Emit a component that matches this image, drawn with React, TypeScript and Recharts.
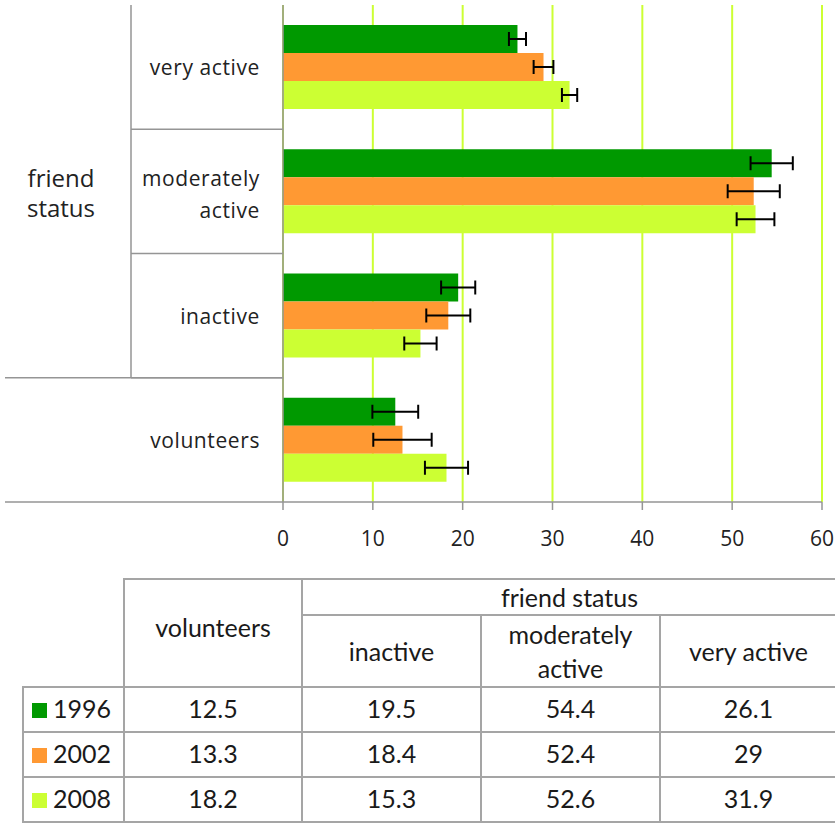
import React from 'react';
import { BarChart, Bar, XAxis, YAxis, CartesianGrid, ErrorBar } from 'recharts';

// categories in table order (bottom to top in the chart)
const categories = ['volunteers', 'inactive', 'moderately active', 'very active'];
const categoryLines = [['volunteers'], ['inactive'], ['moderately', 'active'], ['very active']];
const categoryGroups = ['', 'friend status', 'friend status', 'friend status'];
const groupLines = ['friend', 'status'];

const years = ['1996', '2002', '2008'];
const values1996 = [12.5, 19.5, 54.4, 26.1];
const values2002 = [13.3, 18.4, 52.4, 29];
const values2008 = [18.2, 15.3, 52.6, 31.9];
const errors1996 = [2.55, 1.9, 2.35, 0.95];
const errors2002 = [3.25, 2.45, 2.9, 1.1];
const errors2008 = [2.4, 1.8, 2.1, 0.85];
const xTicks = [0, 10, 20, 30, 40, 50, 60];

const colors = ['#009900', '#FF9933', '#CCFF33'];
const seriesValues = [values1996, values2002, values2008];

const data = categories.map((name, i) => ({
  name,
  y1996: values1996[i],
  y2002: values2002[i],
  y2008: values2008[i],
  e1996: errors1996[i],
  e2002: errors2002[i],
  e2008: errors2008[i],
}));

const CHART_W = 835;
const CHART_H = 560;
const MARGIN = { top: 5, right: 13, bottom: 2, left: 0 };
const Y_AXIS_W = 283;
const X_AXIS_H = 56;
const PLOT_H = CHART_H - MARGIN.top - MARGIN.bottom - X_AXIS_H;
const BAND = PLOT_H / categories.length;
const TICK_GAP = 23;
const GROUP_COL = 152; // width of the inner label column
const LINE = '#959595';
const CHART_FONT = '"Open Sans", sans-serif';

const CategoryTick = (props: any) => {
  const { x, y, payload } = props;
  const i = categories.indexOf(payload.value);
  const axisX = x + TICK_GAP;
  const innerX = axisX - GROUP_COL;
  const lines = categoryLines[i];
  const group = categoryGroups[i];
  const isFirstInGroup = group && (i === 0 || categoryGroups[i - 1] !== group);
  const lineH = 32;
  const out: React.ReactNode[] = [];

  lines.forEach((t, k) => {
    const dy = lines.length > 1 ? 3 : 0;
    out.push(
      <text key={'t' + k} x={x} y={y + (k - (lines.length - 1) / 2) * lineH + dy} textAnchor="end"
        dominantBaseline="central" fontSize={21} letterSpacing={0.6} fill="#222" fontFamily={CHART_FONT}>
        {t}
      </text>
    );
  });

  // bottom boundary of this category cell
  out.push(
    <line key="b" x1={group ? innerX : MARGIN.left + 5} x2={axisX} y1={y + BAND / 2} y2={y + BAND / 2}
      stroke={LINE} strokeWidth={1.5} />
  );

  if (isFirstInGroup) {
    const count = categoryGroups.filter((g) => g === group).length;
    const center = y - ((count - 1) / 2) * BAND;
    const top = center - (count * BAND) / 2;
    const bottom = center + (count * BAND) / 2;
    out.push(<line key="gv" x1={innerX} x2={innerX} y1={top} y2={bottom} stroke={LINE} strokeWidth={1.5} />);
    out.push(<line key="gb" x1={5} x2={axisX} y1={bottom} y2={bottom} stroke={LINE} strokeWidth={1.5} />);
    groupLines.forEach((t, k) => {
      out.push(
        <text key={'g' + k} x={61} y={center + (k - (groupLines.length - 1) / 2) * 30 + 1} textAnchor="middle"
          dominantBaseline="central" fontSize={24} fill="#222" fontFamily={CHART_FONT}>
          {t}
        </text>
      );
    });
  }
  return <g>{out}</g>;
};

const cell: React.CSSProperties = {
  border: '2px solid #A5A5A5',
  padding: 0,
  textAlign: 'center',
  verticalAlign: 'middle',
};

const DataTable = () => (
  <table
    style={{
      position: 'absolute',
      left: 22,
      top: 578,
      width: 813,
      borderCollapse: 'collapse',
      tableLayout: 'fixed',
      fontFamily: 'Lato, sans-serif',
      fontSize: 25,
      color: '#1a1a1a',
      lineHeight: '34px',
    }}
  >
    <colgroup>
      <col style={{ width: 101 }} />
      <col style={{ width: 178 }} />
      <col style={{ width: 179 }} />
      <col style={{ width: 179 }} />
      <col style={{ width: 176 }} />
    </colgroup>
    <tbody>
      <tr style={{ height: 35 }}>
        <td rowSpan={2} style={{ border: 'none' }} />
        <td rowSpan={2} style={{ ...cell, verticalAlign: 'top', paddingTop: 30 }}>{categories[0]}</td>
        <td colSpan={3} style={{ ...cell, borderRight: 'none' }}>{categoryGroups[1]}</td>
      </tr>
      <tr style={{ height: 72 }}>
        {categories.slice(1).map((c, k) => (
          <td key={c} style={{ ...cell, borderRight: k === categories.length - 2 ? 'none' : cell.border }}>
            {categoryLines[k + 1].map((t, j) => (
              <React.Fragment key={j}>
                {j > 0 && <br />}
                {t}
              </React.Fragment>
            ))}
          </td>
        ))}
      </tr>
      {years.map((yr, s) => (
        <tr key={yr} style={{ height: 45 }}>
          <td style={{ ...cell, textAlign: 'left', paddingLeft: 8, paddingBottom: 4 }}>
            <span style={{ display: 'inline-block', width: 15, height: 15, background: colors[s], marginRight: 6 }} />
            {yr}
          </td>
          {seriesValues[s].map((v, i) => (
            <td key={i} style={{ ...cell, paddingBottom: 4, borderRight: i === categories.length - 1 ? 'none' : cell.border }}>
              {String(v)}
            </td>
          ))}
        </tr>
      ))}
    </tbody>
  </table>
);

export default function App() {
  return (
    <div style={{ position: 'absolute', left: 0, top: 0, width: 835, height: 823, overflow: 'hidden', background: '#fff' }}>
      <div style={{ position: 'absolute', left: 0, top: 0 }}>
        <BarChart width={CHART_W} height={CHART_H} data={data} layout="vertical" margin={MARGIN}
          barCategoryGap={20} barGap={0}>
          <CartesianGrid horizontal={false} stroke="#CCFF33" strokeWidth={2} />
          <XAxis type="number" domain={[0, 60]} ticks={xTicks} interval={0} height={X_AXIS_H}
            tickSize={8} tickMargin={21} stroke={LINE} strokeWidth={1.5}
            tick={{ fontSize: 21, fill: '#222', fontFamily: CHART_FONT }} />
          <YAxis type="category" dataKey="name" reversed width={Y_AXIS_W} interval={0}
            tickSize={0} tickMargin={TICK_GAP} stroke={LINE} strokeWidth={1.5} tick={<CategoryTick />} />
          {years.map((yr, s) => (
            <Bar key={yr} dataKey={'y' + yr} fill={colors[s]} isAnimationActive={false}>
              <ErrorBar dataKey={'e' + yr} direction="x" width={7} stroke="#000" strokeWidth={2} />
            </Bar>
          ))}
        </BarChart>
      </div>
      <DataTable />
    </div>
  );
}
